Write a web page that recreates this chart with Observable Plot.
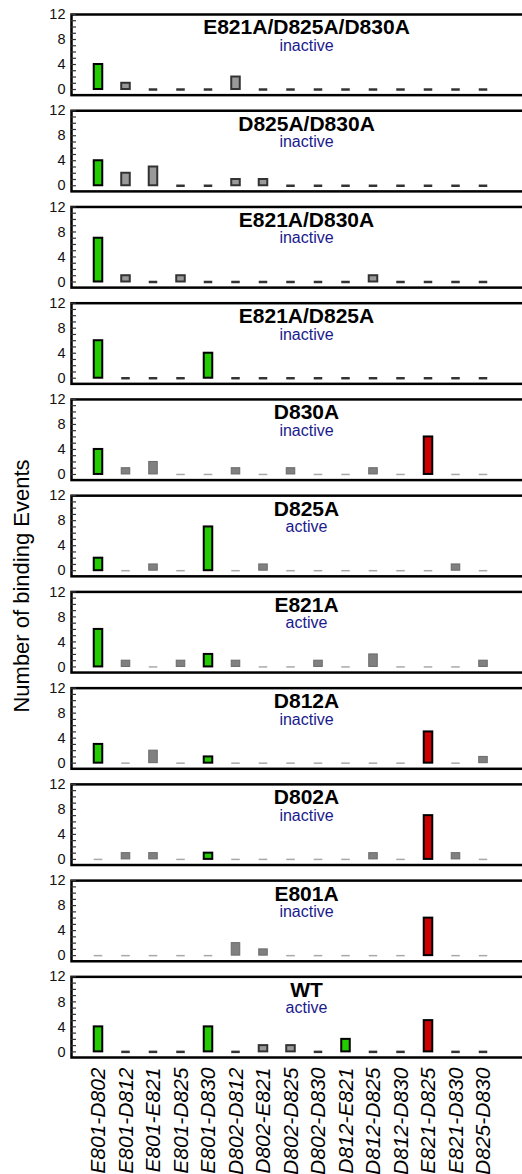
<!DOCTYPE html>
<html>
<head>
<meta charset="utf-8">
<script src="https://cdn.jsdelivr.net/npm/d3@7"></script>
<script src="https://cdn.jsdelivr.net/npm/@observablehq/plot@0.6"></script>
<style>
  html, body { margin: 0; padding: 0; overflow: hidden; background: #fff; }
  #wrap { position: relative; width: 522px; height: 1174px; overflow: hidden; }
  #wrap svg { max-width: none !important; }
  #ylabel {
    position: absolute; left: 22px; top: 586px; z-index: 2;
    transform: translate(-50%, -50%) rotate(-90deg);
    font: 22px "Liberation Sans", Arial, sans-serif; color: #000; white-space: nowrap;
  }
</style>
</head>
<body>
<div id="wrap"><div id="ylabel">Number of binding Events</div></div>
<script>
// Categories (x axis)
const pairs = ["E801-D802","E801-D812","E801-E821","E801-D825","E801-D830","D802-D812","D802-E821","D802-D825","D802-D830","D812-E821","D812-D825","D812-D830","E821-D825","E821-D830","D825-D830"];
// Panels (top to bottom)
const panels = ["E821A/D825A/D830A","D825A/D830A","E821A/D830A","E821A/D825A","D830A","D825A","E821A","D812A","D802A","E801A","WT"];
const activity = ["inactive","inactive","inactive","inactive","inactive","active","active","inactive","inactive","inactive","active"];
// Number of binding events per panel, in the order of `pairs`
const cE821A_D825A_D830A = [4,1,0,0,0,2,0,0,0,0,0,0,0,0,0];
const cD825A_D830A       = [4,2,3,0,0,1,1,0,0,0,0,0,0,0,0];
const cE821A_D830A       = [7,1,0,1,0,0,0,0,0,0,1,0,0,0,0];
const cE821A_D825A       = [6,0,0,0,4,0,0,0,0,0,0,0,0,0,0];
const cD830A             = [4,1,2,0,0,1,0,1,0,0,1,0,6,0,0];
const cD825A             = [2,0,1,0,7,0,1,0,0,0,0,0,0,1,0];
const cE821A             = [6,1,0,1,2,1,0,0,1,0,2,0,0,0,1];
const cD812A             = [3,0,2,0,1,0,0,0,0,0,0,0,5,0,1];
const cD802A             = [0,1,1,0,1,0,0,0,0,0,1,0,7,1,0];
const cE801A             = [0,0,0,0,0,2,1,0,0,0,0,0,6,0,0];
const cWT                = [4,0,0,0,4,0,1,1,0,2,0,0,5,0,0];
const counts = [cE821A_D825A_D830A,cD825A_D830A,cE821A_D830A,cE821A_D825A,cD830A,cD825A,cE821A,cD812A,cD802A,cE801A,cWT];
// Highlighted pair groups
const greenPairs = ["E801-D802","E801-D830","D812-E821"];
const redPairs = ["E821-D825"];
// Panels drawn with dark outlines
const darkPanels = ["E821A/D825A/D830A","D825A/D830A","E821A/D830A","E821A/D825A","WT"];

const rows = [];
panels.forEach((p, i) => pairs.forEach((pair, j) => {
  rows.push({
    panel: p, pair, count: counts[i][j],
    kind: greenPairs.includes(pair) ? "green" : redPairs.includes(pair) ? "red" : "gray",
    dark: darkPanels.includes(p)
  });
}));
const colorOf = {green: "#22cc00", red: "#cc0000"};
const font = '"Liberation Sans", Arial, sans-serif';

const chart = Plot.plot({
  width: 545, height: 1174,
  marginLeft: 71, marginRight: 4, marginTop: 14, marginBottom: 117,
  style: {fontFamily: font, color: "#000", background: "transparent", maxWidth: "none"},
  fy: {domain: panels, axis: null, paddingInner: 0.162, paddingOuter: 0, round: false},
  x: {domain: pairs, insetLeft: 13.25, insetRight: 44.25, paddingInner: 0.69, paddingOuter: 0.345, round: false},
  y: {domain: [-0.9, 12]},
  color: {type: "identity"},
  marks: [
    Plot.frame({stroke: "#000", strokeWidth: 2.5}),
    Plot.axisY({ticks: d3.range(0, 13), tickSize: -5, tickFormat: () => "", label: null, stroke: "#333", strokeWidth: 1.2}),
    Plot.axisY({ticks: [0, 4, 8, 12], tickSize: 0, tickPadding: 6, fontSize: 14.5, label: null, fill: "#111"}),
    Plot.axisX({tickRotate: -90, tickSize: 0, tickPadding: 10, fontSize: 21, fontStyle: "italic", label: null, fill: "#000"}),
    // zero counts: short dashes
    Plot.tickY(rows.filter(d => d.count === 0 && d.dark), {x: "pair", fy: "panel", y: 0, stroke: "#333", strokeWidth: 2.5}),
    Plot.tickY(rows.filter(d => d.count === 0 && !d.dark), {x: "pair", fy: "panel", y: 0, stroke: "#a8a8a8", strokeWidth: 1.5}),
    // gray bars
    Plot.rectY(rows.filter(d => d.count > 0 && d.kind === "gray" && d.dark), {x: "pair", fy: "panel", y1: 0, y2: "count", fill: "#999", stroke: "#333", strokeWidth: 2}),
    Plot.rectY(rows.filter(d => d.count > 0 && d.kind === "gray" && !d.dark), {x: "pair", fy: "panel", y1: 0, y2: "count", fill: "#808080", stroke: "#6a6a6a", strokeWidth: 1}),
    // highlighted bars
    Plot.rectY(rows.filter(d => d.count > 0 && d.kind !== "gray"), {x: "pair", fy: "panel", y1: 0, y2: "count", fill: d => colorOf[d.kind], stroke: "#000", strokeWidth: 2}),
    // titles
    Plot.text(panels, {fy: d => d, text: d => d, frameAnchor: "top", lineAnchor: "top", dy: 5, fontSize: 21, fontWeight: "bold", fill: "#000"}),
    Plot.text(panels, {fy: d => d, text: (d, i) => activity[i], frameAnchor: "top", lineAnchor: "top", dy: 25, fontSize: 16, fill: "#1a1a8c"})
  ]
});
chart.style.position = "absolute";
chart.style.left = "0px";
chart.style.top = "0px";
chart.style.maxWidth = "none";
chart.style.width = "545px";
chart.style.height = "1174px";
document.getElementById("wrap").appendChild(chart);
</script>
</body>
</html>
